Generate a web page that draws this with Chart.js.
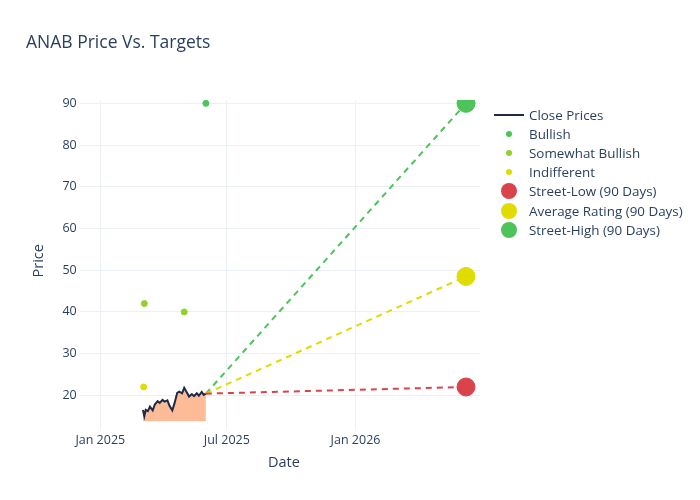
<!DOCTYPE html>
<html>
<head>
<meta charset="utf-8">
<script src="https://cdn.jsdelivr.net/npm/chart.js@4"></script>
<style>
  body { margin: 0; background: #fff; }
  #wrap { width: 700px; height: 500px; position: relative; }
  #legenda { position: absolute; left: 494px; top: 105px; font-family: 'Open Sans', sans-serif;
    font-size: 13.4px; color: #2a3f5f; }
  .item { height: 19.2px; display: flex; align-items: center; }
  .simb { width: 30px; display: flex; justify-content: center; align-items: center; margin-right: 5px; }
  .simb span { border-radius: 50%; display: block; }
</style>
</head>
<body>
<div id="wrap"><canvas id="grafico"></canvas><div id="legenda"></div></div>
<script>
// Dados
const closeDates = ['2025-03-03','2025-03-05','2025-03-07','2025-03-10','2025-03-13','2025-03-17','2025-03-20',
  '2025-03-24','2025-03-27','2025-03-31','2025-04-03','2025-04-07','2025-04-10','2025-04-14','2025-04-17',
  '2025-04-21','2025-04-24','2025-04-28','2025-05-01','2025-05-05','2025-05-08','2025-05-12','2025-05-15',
  '2025-05-19','2025-05-22','2025-05-26','2025-05-29','2025-06-01'];
const closeValues = [16.5, 15.0, 16.5, 16.2, 17.3, 16.4, 17.8, 18.6, 18.2, 18.9, 18.5, 18.8, 17.5, 16.4,
  18.0, 20.6, 20.9, 20.5, 21.8, 20.6, 19.7, 20.3, 19.8, 20.5, 19.9, 20.8, 20.1, 20.4];

const bullishDates = ['2025-06-01'];
const bullishValues = [90];
const someBullDates = ['2025-03-05', '2025-05-01'];
const someBullValues = [42, 40];
const indiffDates = ['2025-03-04'];
const indiffValues = [22];

const targetDate = '2026-06-08';
const streetLow = 22;
const avgRating = 48.5;
const streetHigh = 90;

const tickDates = ['2025-01-01', '2025-07-01', '2026-01-01'];
const tickLabels = ['Jan 2025', 'Jul 2025', 'Jan 2026'];

const origem = Date.UTC(2025, 0, 1);
function dia(s) {
  const p = s.split('-');
  return (Date.UTC(+p[0], +p[1] - 1, +p[2]) - origem) / 86400000;
}
function pontos(datas, valores) {
  return datas.map((d, i) => ({ x: dia(d), y: valores[i] }));
}

const ultimo = { x: dia(closeDates[closeDates.length - 1]), y: closeValues[closeValues.length - 1] };
const alvoX = dia(targetDate);
const tickX = tickDates.map(dia);

function tracejado(cor, valor) {
  return {
    type: 'line', label: '', data: [ultimo, { x: alvoX, y: valor }],
    borderColor: cor, borderDash: [6, 5], borderWidth: 2, pointRadius: 0, fill: false
  };
}
function alvo(label, cor, valor) {
  return {
    type: 'scatter', label: label, data: [{ x: alvoX, y: valor }],
    backgroundColor: cor, borderColor: cor, pointRadius: 9, pointHoverRadius: 9
  };
}

new Chart(document.getElementById('grafico'), {
  type: 'line',
  data: {
    datasets: [
      tracejado('#d9434b', streetLow),
      tracejado('#e0dc00', avgRating),
      tracejado('#4cc45a', streetHigh),
      {
        label: 'Close Prices', data: pontos(closeDates, closeValues),
        borderColor: '#1f2a44', borderWidth: 2, pointRadius: 0, tension: 0,
        fill: 'start', backgroundColor: 'rgba(253,180,140,0.9)'
      },
      { type: 'scatter', label: 'Bullish', data: pontos(bullishDates, bullishValues),
        backgroundColor: '#4cc45a', borderColor: '#4cc45a', pointRadius: 3 },
      { type: 'scatter', label: 'Somewhat Bullish', data: pontos(someBullDates, someBullValues),
        backgroundColor: '#93d12a', borderColor: '#93d12a', pointRadius: 3 },
      { type: 'scatter', label: 'Indifferent', data: pontos(indiffDates, indiffValues),
        backgroundColor: '#e0dc00', borderColor: '#e0dc00', pointRadius: 3 },
      alvo('Street-Low (90 Days)', '#d9434b', streetLow),
      alvo('Average Rating (90 Days)', '#e0dc00', avgRating),
      alvo('Street-High (90 Days)', '#4cc45a', streetHigh)
    ]
  },
  options: {
    responsive: true, maintainAspectRatio: false, animation: false,
    layout: { padding: { left: 26, right: 220, top: 10, bottom: 24 } },
    plugins: {
      title: {
        display: true, text: 'ANAB Price Vs. Targets', align: 'start',
        color: '#2a3f5f', font: { family: 'Open Sans', size: 17.5, weight: 'normal' },
        padding: { top: 23, bottom: 46 }
      },
      legend: { display: false },
      tooltip: { enabled: false }
    },
    scales: {
      x: {
        type: 'linear', min: -18, max: 543,
        afterBuildTicks: ax => { ax.ticks = tickX.map(v => ({ value: v })); },
        ticks: { color: '#2a3f5f', font: { family: 'Open Sans', size: 12.5 },
          callback: v => tickLabels[tickX.indexOf(v)] || '' },
        grid: { color: '#ebf0f8' }, border: { display: false },
        title: { display: true, text: 'Date', color: '#2a3f5f', font: { family: 'Open Sans', size: 14.5 },
          padding: { top: 4 } }
      },
      y: {
        min: 13.7, max: 90.8,
        afterBuildTicks: ax => { ax.ticks = [20,30,40,50,60,70,80,90].map(v => ({ value: v })); },
        ticks: { color: '#2a3f5f', font: { family: 'Open Sans', size: 12.5 } },
        grid: { color: '#ebf0f8' }, border: { display: false },
        title: { display: true, text: 'Price', color: '#2a3f5f', font: { family: 'Open Sans', size: 14.5 },
          padding: { bottom: 12 } }
      }
    }
  }
});

// Legenda
const itensLegenda = [
  ['Close Prices', '#1f2a44', 'linha'],
  ['Bullish', '#4cc45a', 6],
  ['Somewhat Bullish', '#93d12a', 6],
  ['Indifferent', '#e0dc00', 6],
  ['Street-Low (90 Days)', '#d9434b', 16],
  ['Average Rating (90 Days)', '#e0dc00', 16],
  ['Street-High (90 Days)', '#4cc45a', 16]
];
const legenda = document.getElementById('legenda');
itensLegenda.forEach(([txt, cor, tam]) => {
  const div = document.createElement('div');
  div.className = 'item';
  const simb = tam === 'linha'
    ? `<span style="width:30px;height:2px;border-radius:0;background:${cor}"></span>`
    : `<span style="width:${tam}px;height:${tam}px;background:${cor}"></span>`;
  div.innerHTML = `<div class="simb">${simb}</div><div>${txt}</div>`;
  legenda.appendChild(div);
});
</script>
</body>
</html>
